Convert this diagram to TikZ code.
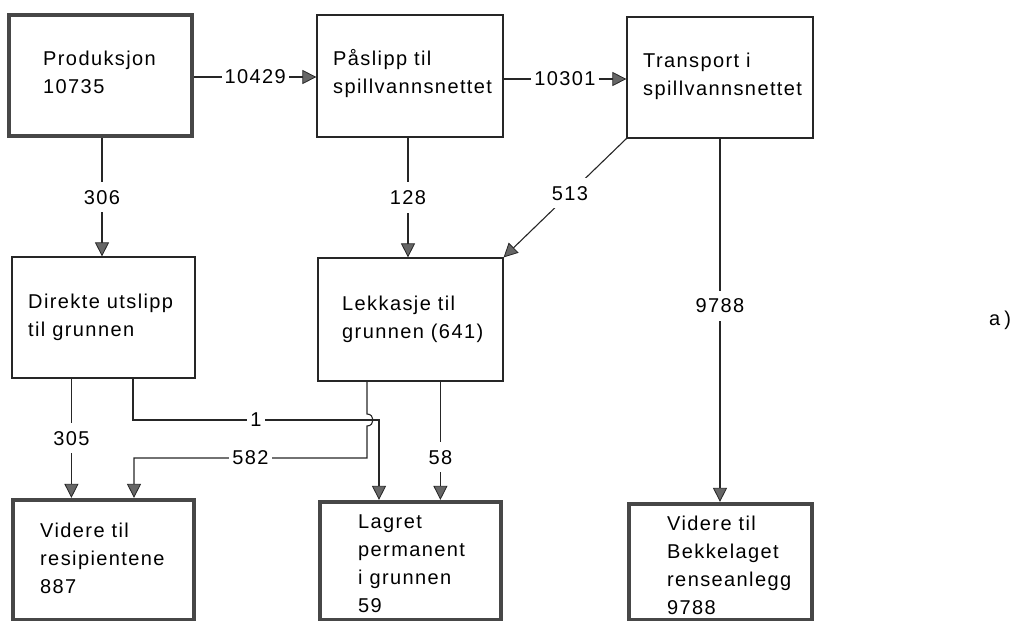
\documentclass[tikz,border=0pt]{standalone}
\usepackage{fontspec}
\setmainfont{Liberation Sans}[LetterSpace=7]
\usetikzlibrary{arrows.meta,calc}
\begin{document}
\begin{tikzpicture}[x=1pt,y=-1pt,
  thinbox/.style={draw=black!85,line width=1.2pt,rectangle,inner sep=0pt},
  thickbox/.style={draw=black!72,line width=3.8pt,rectangle,inner sep=0pt},
  txt/.style={anchor=north west,inner sep=0pt,align=left,font=\fontsize{20}{28}\selectfont},
  lab/.style={fill=white,inner xsep=3pt,inner ysep=8pt,font=\fontsize{20}{24}\selectfont},
  ln/.style={draw=black!85,line width=1.1pt},
  arr/.style={ln,-{Triangle[length=14pt,width=14pt,fill=black!60,line width=0.8pt]}}]
\useasboundingbox (0,0) rectangle (1023,621);
% boxes
\node[thickbox,minimum width=183.4pt,minimum height=121.4pt] (prod) at (100.5,75.5) {};
\node[thinbox,minimum width=186pt,minimum height=122pt] (pasl) at (410,76) {};
\node[thinbox,minimum width=186pt,minimum height=121pt] (trans) at (720,77.5) {};
\node[thinbox,minimum width=183pt,minimum height=121pt] (direk) at (103.5,317.5) {};
\node[thinbox,minimum width=185pt,minimum height=123pt] (lekk) at (410.5,319.5) {};
\node[thickbox,minimum width=181.4pt,minimum height=119.7pt] (vid1) at (103.5,559.65) {};
\node[thickbox,minimum width=181.4pt,minimum height=117.7pt] (lagret) at (410.5,560.65) {};
\node[thickbox,minimum width=183.4pt,minimum height=115.7pt] (bekk) at (720.5,561.65) {};
% texts
\node[txt] (tprod) at (43,45.4) {\strut Produksjon\\10735};
\node[txt] (tpasl) at (333,45.4) {\strut Påslipp til\\spillvannsnettet};
\node[txt] (ttrans) at (643,47.4) {\strut Transport i\\spillvannsnettet};
\node[txt] (tdirek) at (28,288.4) {\strut Direkte utslipp\\til grunnen};
\node[txt] (tlekk) at (342,290.4) {\strut Lekkasje til\\grunnen (641)};
\node[txt] (tvid1) at (40,517.4) {\strut Videre til\\resipientene\\887};
\node[txt] (tlagret) at (358,508.4) {\strut Lagret\\permanent\\i grunnen\\59};
\node[txt] (tbekk) at (667,510.4) {\strut Videre til\\Bekkelaget\\renseanlegg\\9788};
\node[anchor=base west,inner sep=0pt,font=\fontsize{20}{28}\selectfont] (tag) at (989,325) {a\hspace{4pt})};
% connectors
\draw[arr] ([yshift=-1.5pt]prod.east) -- node[lab]{10429} ([yshift=-1.5pt]prod.east -| pasl.west);
\draw[arr] ([yshift=-3pt]pasl.east) -- node[lab]{10301} ([yshift=-3pt]pasl.east -| trans.west);
\draw[arr] ([xshift=1.5pt]prod.south) -- node[lab]{306} ([xshift=1.5pt]prod.south |- direk.north);
\draw[arr] ([xshift=-2pt]pasl.south) -- node[lab]{128} ([xshift=-2pt]pasl.south |- lekk.north);
\draw[arr] (trans.south west) -- node[lab,pos=0.46]{513} (lekk.north east);
\draw[arr] (trans.south) -- node[lab,pos=0.46]{9788} (trans.south |- bekk.north);
\coordinate (c305) at ([xshift=60pt]direk.south west);
\draw[arr] (c305) -- node[lab]{305} (c305 |- vid1.north);
\coordinate (a1) at (133,420);
\coordinate (a2) at (379,420);
\draw[arr] (a1 |- direk.south) -- (a1) -- node[lab,inner ysep=2pt]{1} (a2) -- (a2 |- lagret.north);
\coordinate (b1) at (367,414);
\coordinate (b2) at (367,426);
\coordinate (b3) at (367,458);
\coordinate (b4) at (134,458);
\draw[arr] (b1 |- lekk.south) -- (b1) .. controls (375,414) and (375,426) .. (b2) -- (b3) -- node[lab,inner ysep=2pt]{582} (b4) -- (b4 |- vid1.north);
\coordinate (c58) at ([xshift=123pt]lekk.south west);
\draw[arr] (c58) -- node[lab,pos=0.64]{58} (c58 |- lagret.north);
\end{tikzpicture}
\end{document}
